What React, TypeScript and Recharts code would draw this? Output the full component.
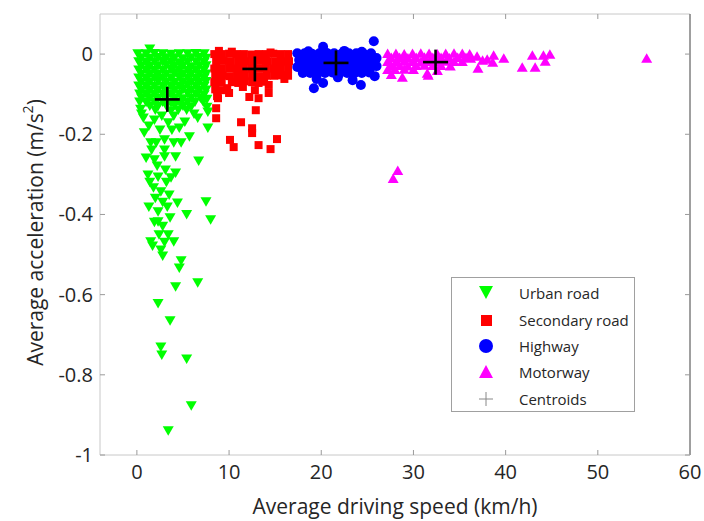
import React from 'react'
import {
  ScatterChart,
  Scatter,
  XAxis,
  YAxis,
  ReferenceLine,
  Legend,
} from 'recharts'

// speed (km/h), acceleration (m/s^2)
const urbanRoad: [number, number][] = [
  [1.4, 0.012],
  [0.1, 0], [1.0, 0], [1.9, 0.001], [2.8, 0], [3.7, -0.001], [4.6, 0], [5.5, 0], [6.4, 0.001], [7.3, 0],
  [0.5, -0.01], [1.4, -0.011], [2.3, -0.009], [3.2, -0.01], [4.1, -0.01], [5.0, -0.012], [5.9, -0.01], [6.8, -0.009], [7.5, -0.011],
  [0.2, -0.02], [1.0, -0.021], [1.9, -0.02], [2.8, -0.019], [3.7, -0.02], [4.6, -0.022], [5.5, -0.02], [6.4, -0.02], [7.3, -0.021],
  [0.5, -0.03], [1.4, -0.031], [2.3, -0.03], [3.2, -0.029], [4.1, -0.03], [5.0, -0.03], [5.9, -0.032], [6.8, -0.03], [7.5, -0.03],
  [0.2, -0.04], [1.0, -0.04], [1.9, -0.041], [2.8, -0.04], [3.7, -0.039], [4.6, -0.04], [5.5, -0.041], [6.4, -0.04], [7.3, -0.04],
  [0.5, -0.05], [1.4, -0.05], [2.3, -0.051], [3.2, -0.05], [4.1, -0.049], [5.0, -0.05], [5.9, -0.05], [6.8, -0.051], [7.5, -0.05],
  [0.2, -0.06], [1.0, -0.061], [1.9, -0.06], [2.8, -0.06], [3.7, -0.06], [4.6, -0.059], [5.5, -0.06], [6.4, -0.061], [7.3, -0.06],
  [0.5, -0.07], [1.4, -0.07], [2.3, -0.069], [3.2, -0.07], [4.1, -0.071], [5.0, -0.07], [5.9, -0.07], [6.8, -0.07], [7.5, -0.069],
  [0.2, -0.08], [1.0, -0.08], [1.9, -0.081], [2.8, -0.08], [3.7, -0.08], [4.6, -0.08], [5.5, -0.079], [6.4, -0.08], [7.3, -0.081],
  [0.5, -0.09], [1.4, -0.091], [2.3, -0.09], [3.2, -0.09], [4.1, -0.09], [5.0, -0.089], [5.9, -0.09], [6.8, -0.091], [7.5, -0.09],
  [0.3, -0.1], [1.0, -0.1], [1.9, -0.101], [2.8, -0.1], [3.7, -0.1], [4.6, -0.1], [5.5, -0.099], [6.4, -0.1], [7.3, -0.102],
  [0.5, -0.11], [1.4, -0.11], [2.3, -0.111], [3.2, -0.11], [4.1, -0.11], [5.0, -0.112], [5.9, -0.11], [6.9, -0.11], [7.6, -0.113],
  [0.3, -0.12], [1.0, -0.121], [1.9, -0.12], [2.8, -0.12], [3.7, -0.122], [4.6, -0.12], [5.5, -0.121], [6.3, -0.12], [7.2, -0.12],
  [1.4, -0.13], [2.3, -0.131], [3.2, -0.13], [4.1, -0.129], [5.0, -0.13], [5.9, -0.132], [7.6, -0.133],
  [0.4, -0.138], [2.0, -0.14], [3.7, -0.142], [4.5, -0.14], [5.4, -0.14], [7.7, -0.145],
  [0.5, -0.15], [2.7, -0.155], [4.0, -0.155], [6.2, -0.15], [5.2, -0.17],
  [0.7, -0.16], [1.9, -0.165], [3.4, -0.172], [4.6, -0.185], [5.7, -0.207], [6.6, -0.16], [7.7, -0.185],
  [0.8, -0.197], [1.3, -0.18], [2.5, -0.19], [3.8, -0.19], [1.5, -0.222], [2.1, -0.222], [3.0, -0.214],
  [4.0, -0.222], [4.8, -0.222], [1.6, -0.24], [3.0, -0.24], [1.0, -0.26], [1.9, -0.264], [3.0, -0.257],
  [4.2, -0.257], [6.7, -0.267], [2.2, -0.28], [3.1, -0.29], [1.2, -0.302], [2.3, -0.307], [3.7, -0.309],
  [4.2, -0.297], [1.4, -0.32], [3.2, -0.32], [1.8, -0.334], [2.6, -0.344], [3.5, -0.352], [2.0, -0.36],
  [2.8, -0.37], [1.3, -0.382], [2.3, -0.394], [3.3, -0.382], [4.4, -0.372], [5.4, -0.401], [7.5, -0.369],
  [8.0, -0.414], [1.9, -0.42], [2.3, -0.419], [2.8, -0.43], [3.6, -0.409], [2.4, -0.451], [3.4, -0.451],
  [3.0, -0.47], [4.0, -0.469], [1.5, -0.469], [1.7, -0.479], [2.6, -0.489], [2.8, -0.504], [4.8, -0.516],
  [4.6, -0.534], [6.6, -0.571], [4.2, -0.581], [2.3, -0.623], [3.6, -0.666], [2.6, -0.731], [2.7, -0.751],
  [5.4, -0.761], [5.9, -0.878], [3.4, -0.94],
]

const secondaryRoad: [number, number][] = [
  [8.9, 0.008], [10.3, 0.006], [14.5, 0.004],
  [8.4, 0], [9.2, 0], [10.0, 0.001], [10.8, 0], [11.6, 0], [12.4, -0.001], [13.2, 0], [14.0, 0], [14.8, 0.001], [15.6, 0], [16.4, 0],
  [8.6, -0.018], [9.4, -0.017], [10.2, -0.018], [11.0, -0.019], [11.8, -0.018], [12.6, -0.018], [13.4, -0.017], [14.2, -0.018], [15.0, -0.018], [15.8, -0.019], [16.5, -0.018],
  [8.4, -0.036], [9.2, -0.036], [10.0, -0.035], [10.8, -0.036], [11.6, -0.037], [12.4, -0.036], [13.2, -0.036], [14.0, -0.035], [14.8, -0.036], [15.6, -0.036], [16.4, -0.037],
  [8.5, -0.054], [9.3, -0.054], [10.1, -0.055], [10.9, -0.054], [11.7, -0.053], [12.5, -0.054], [13.3, -0.055], [14.1, -0.054], [14.9, -0.054], [15.7, -0.053], [16.4, -0.054],
  [8.4, -0.07], [9.2, -0.071], [10.3, -0.07], [11.0, -0.072], [11.7, -0.068], [12.5, -0.07], [13.2, -0.072], [13.8, -0.069], [16.0, -0.062],
  [8.5, -0.088], [9.3, -0.09], [8.7, -0.105], [9.8, -0.085], [11.5, -0.082], [12.8, -0.09],
  [8.6, -0.135], [8.6, -0.16], [8.8, -0.11], [10.0, -0.097], [12.2, -0.107], [13.2, -0.11],
  [14.3, -0.077], [14.3, -0.097], [12.9, -0.14], [11.3, -0.17], [12.5, -0.185], [12.5, -0.197],
  [10.1, -0.214], [10.5, -0.232], [13.2, -0.227], [15.2, -0.212], [14.5, -0.237],
]

const highway: [number, number][] = [
  [20.2, 0.018], [25.7, 0.032], [22.5, 0.008], [18.6, 0.007], [24.4, 0.006],
  [17.4, 0.002], [18.2, 0.002], [19.0, 0.001], [19.8, 0.002], [20.6, 0.003], [21.4, 0.002], [22.2, 0.001], [23.0, 0.002], [23.8, 0.002], [24.6, 0.001], [25.4, 0.002],
  [17.6, -0.015], [18.4, -0.015], [19.2, -0.016], [20.0, -0.015], [20.8, -0.014], [21.6, -0.015], [22.4, -0.015], [23.2, -0.016], [24.0, -0.015], [24.8, -0.015], [25.6, -0.014], [26.0, -0.01],
  [17.4, -0.032], [18.2, -0.032], [19.0, -0.031], [19.8, -0.032], [20.6, -0.033], [21.4, -0.032], [22.2, -0.032], [23.0, -0.031], [23.8, -0.032], [24.6, -0.033], [25.4, -0.032], [26.0, -0.03],
  [18.0, -0.047], [18.8, -0.047], [19.6, -0.048], [20.4, -0.047], [21.2, -0.046], [22.0, -0.047], [22.8, -0.047], [23.6, -0.048], [24.4, -0.047], [25.2, -0.046],
  [19.2, -0.085], [20.2, -0.072], [24.3, -0.077], [23.4, -0.065], [19.5, -0.062], [21.8, -0.058], [25.8, -0.055],
]

const motorway: [number, number][] = [
  [27.2, 0.002], [28.1, 0.002], [29.0, 0.001], [29.9, 0.002], [30.8, 0.003], [31.7, 0.002], [32.6, 0.001], [33.5, 0.002], [34.4, 0.003], [35.3, 0.002], [36.1, 0.001],
  [27.6, -0.008], [28.5, -0.008], [29.4, -0.009], [30.3, -0.008], [31.2, -0.007], [32.1, -0.008], [33.0, -0.008], [33.9, -0.009], [34.8, -0.008], [35.7, -0.008],
  [27.2, -0.018], [28.1, -0.018], [29.0, -0.017], [29.9, -0.018], [30.8, -0.019], [31.7, -0.018], [32.6, -0.018], [33.5, -0.017], [34.4, -0.018], [35.3, -0.018],
  [27.6, -0.028], [28.5, -0.028], [29.4, -0.029], [30.3, -0.028], [31.2, -0.027], [32.1, -0.028], [33.0, -0.028], [34.0, -0.029],
  [27.2, -0.038], [28.0, -0.038], [29.0, -0.037], [30.0, -0.038],
  [28.8, -0.057], [31.5, -0.047], [32.6, -0.04], [31.6, -0.052], [27.6, -0.05],
  [36.2, -0.01], [36.9, -0.005], [37.5, -0.015], [38.0, -0.012], [38.7, -0.002], [39.8, -0.01], [37.0, -0.035], [38.6, -0.02],
  [41.8, -0.032], [42.9, -0.002], [43.2, -0.032], [44.1, -0.002], [44.8, 0.0], [44.3, -0.017], [55.3, -0.01],
  [27.8, -0.31], [28.3, -0.29],
]

const centroids: [number, number][] = [
  [3.3, -0.113], [12.8, -0.037], [21.6, -0.022], [32.4, -0.02],
]

const xTicks = [0, 10, 20, 30, 40, 50, 60]
const yTicks = [-1, -0.8, -0.6, -0.4, -0.2, 0]

const CHART_W = 704
const CHART_H = 521
const MARGIN = { top: 14, right: 14, bottom: 0, left: 0 }
const Y_AXIS_W = 100
const X_AXIS_H = 66
const PLOT_TOP = MARGIN.top
const PLOT_BOTTOM = CHART_H - MARGIN.bottom - X_AXIS_H
const PLOT_LEFT = MARGIN.left + Y_AXIS_W
const PLOT_RIGHT = CHART_W - MARGIN.right

const FONT = '"Open Sans", sans-serif'
const TEXT = '#262626'
const TICK = '#9a9a9a'

const toPoints = (pts: [number, number][]) => pts.map(([speed, accel]) => ({ speed, accel }))

const downTriangle = (color: string) => (p: any) => (
  <polygon
    points={`${p.cx - 5.5},${p.cy - 4.75} ${p.cx + 5.5},${p.cy - 4.75} ${p.cx},${p.cy + 4.75}`}
    fill={color}
  />
)

const upTriangle = (color: string) => (p: any) => (
  <polygon
    points={`${p.cx - 5.5},${p.cy + 4.75} ${p.cx + 5.5},${p.cy + 4.75} ${p.cx},${p.cy - 4.75}`}
    fill={color}
  />
)

const square = (color: string) => (p: any) => (
  <rect x={p.cx - 4} y={p.cy - 4} width={8} height={8} fill={color} />
)

const dot = (color: string) => (p: any) => <circle cx={p.cx} cy={p.cy} r={5} fill={color} />

const plus = (p: any) => (
  <g stroke="#000" strokeWidth={2.6}>
    <line x1={p.cx - 12.5} x2={p.cx + 12.5} y1={p.cy} y2={p.cy} />
    <line x1={p.cx} x2={p.cx} y1={p.cy - 12.5} y2={p.cy + 12.5} />
  </g>
)

const series = [
  { name: 'Urban road', color: '#00ff00', points: urbanRoad, shape: downTriangle },
  { name: 'Secondary road', color: '#ff0000', points: secondaryRoad, shape: square },
  { name: 'Highway', color: '#0000ff', points: highway, shape: dot },
  { name: 'Motorway', color: '#ff00ff', points: motorway, shape: upTriangle },
]

// ticks point inwards on all four sides of the box
function XTick({ x, payload }: any) {
  return (
    <g>
      <line x1={x} x2={x} y1={PLOT_BOTTOM} y2={PLOT_BOTTOM - 5} stroke={TICK} />
      <line x1={x} x2={x} y1={PLOT_TOP} y2={PLOT_TOP + 5} stroke={TICK} />
      <text x={x} y={PLOT_BOTTOM + 24} textAnchor="middle" fill={TEXT} fontSize={20} fontFamily={FONT}>
        {payload.value}
      </text>
    </g>
  )
}

function YTick({ y, payload }: any) {
  return (
    <g>
      <line x1={PLOT_LEFT} x2={PLOT_LEFT + 5} y1={y} y2={y} stroke={TICK} />
      <line x1={PLOT_RIGHT} x2={PLOT_RIGHT - 5} y1={y} y2={y} stroke={TICK} />
      <text x={PLOT_LEFT - 7} y={y + 7} textAnchor="end" fill={TEXT} fontSize={20} fontFamily={FONT}>
        {payload.value === 0 ? '0' : String(payload.value)}
      </text>
    </g>
  )
}

function XTitle({ viewBox }: any) {
  return (
    <text
      x={viewBox.x + viewBox.width / 2}
      y={viewBox.y + 59}
      textAnchor="middle"
      fill={TEXT}
      fontSize={21}
      fontFamily={FONT}
    >
      Average driving speed (km/h)
    </text>
  )
}

function YTitle({ viewBox }: any) {
  const cx = 35
  const cy = viewBox.y + viewBox.height / 2 - 2
  return (
    <text
      x={cx}
      y={cy}
      transform={`rotate(-90 ${cx} ${cy})`}
      textAnchor="middle"
      dominantBaseline="central"
      fill={TEXT}
      fontSize={21}
      fontFamily={FONT}
    >
      Average acceleration (m/s
      <tspan dy={-8} fontSize={14}>2</tspan>
      <tspan dy={8}>)</tspan>
    </text>
  )
}

function LegendBox() {
  const rows = [
    ...series.map((s) => ({ name: s.name, color: s.color })),
    { name: 'Centroids', color: '#888' },
  ]
  return (
    <div
      style={{
        width: 184,
        height: 135,
        boxSizing: 'border-box',
        border: '1px solid #a0a0a0',
        background: '#fff',
        paddingTop: 2,
        fontFamily: FONT,
        fontSize: 15,
        color: TEXT,
        whiteSpace: 'nowrap',
      }}
    >
      {rows.map((r) => (
        <div key={r.name} style={{ display: 'flex', alignItems: 'center', height: 26.4 }}>
          <svg width={67} height={20} style={{ flex: 'none' }}>
            {r.name === 'Urban road' && <polygon points="27,3 41,3 34,16" fill={r.color} />}
            {r.name === 'Secondary road' && <rect x={29} y={5} width={11} height={11} fill={r.color} />}
            {r.name === 'Highway' && <circle cx={34} cy={10} r={7} fill={r.color} />}
            {r.name === 'Motorway' && <polygon points="27,16 41,16 34,3" fill={r.color} />}
            {r.name === 'Centroids' && (
              <g stroke={r.color} strokeWidth={1}>
                <line x1={27} x2={41} y1={10} y2={10} />
                <line x1={34} x2={34} y1={3} y2={17} />
              </g>
            )}
          </svg>
          <span>{r.name}</span>
        </div>
      ))}
    </div>
  )
}

export default function App() {
  return (
    <div style={{ position: 'absolute', left: 0, top: 0, width: CHART_W, height: CHART_H, background: '#fff' }}>
      <ScatterChart width={CHART_W} height={CHART_H} margin={MARGIN}>
        <XAxis
          type="number"
          dataKey="speed"
          domain={[-4, 60]}
          ticks={xTicks}
          height={X_AXIS_H}
          axisLine={{ stroke: '#c8c8c8' }}
          tickLine={false}
          tick={<XTick />}
          label={{ content: <XTitle /> }}
          interval={0}
        />
        <YAxis
          type="number"
          dataKey="accel"
          domain={[-1, 0.1]}
          ticks={yTicks}
          width={Y_AXIS_W}
          axisLine={{ stroke: '#c8c8c8' }}
          tickLine={false}
          tick={<YTick />}
          label={{ content: <YTitle /> }}
          interval={0}
        />
        <ReferenceLine y={0.1} stroke="#c8c8c8" />
        <ReferenceLine x={60} stroke="#404040" />
        {series.map((s) => (
          <Scatter
            key={s.name}
            name={s.name}
            data={toPoints(s.points)}
            fill={s.color}
            shape={s.shape(s.color)}
            isAnimationActive={false}
          />
        ))}
        <Scatter
          name="Centroids"
          data={toPoints(centroids)}
          fill="#000"
          shape={plus}
          isAnimationActive={false}
        />
        <Legend
          layout="horizontal"
          verticalAlign="middle"
          align="center"
          content={<LegendBox />}
          wrapperStyle={{ left: 451, top: 277, width: 184, height: 135 }}
        />
      </ScatterChart>
    </div>
  )
}
